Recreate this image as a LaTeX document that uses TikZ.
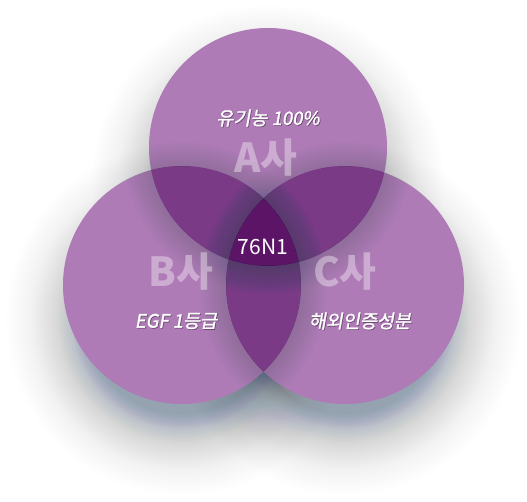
\documentclass[tikz,border=0pt]{standalone}
\usepackage{fontspec}
\usetikzlibrary{calc}
\newfontfamily\kr{Noto Sans CJK KR}
\newfontfamily\krsl[FakeSlant=0.18,FakeBold=1.6]{Noto Sans CJK KR}
\definecolor{vsingle}{HTML}{AE7BB6}
\definecolor{vdouble}{HTML}{7A3A86}
\definecolor{vtriple}{HTML}{5C1466}
\definecolor{shadowc}{HTML}{2A4060}
\tikzset{
  x=1pt, y=-1pt,
  caption/.style={text=white, font=\krsl\fontsize{18.5}{22}\selectfont, inner sep=0pt},
  capshadow/.style={text=black, opacity=0.3, font=\krsl\fontsize{18.5}{22}\selectfont, inner sep=0pt},
  company/.style={text=white, text opacity=0.38, font=\kr\bfseries\fontsize{40}{44}\selectfont, inner sep=0pt},
  center label/.style={text=white, font=\kr\fontsize{21}{24}\selectfont, inner sep=0pt},
}
\newcommand{\rad}{119pt}
\begin{document}
\begin{tikzpicture}
\useasboundingbox (0,0) rectangle (527,502);
\fill[white] (0,0) rectangle (527,502);
\coordinate (A) at (268,147);
\coordinate (B) at (182,285);
\coordinate (C) at (345,285);
% soft drop shadows
\foreach \cc in {A,B,C}{
  \foreach \r in {96,98,...,204}{
    \pgfmathsetmacro{\o}{\r<112 ? 0.03 : (\r<126 ? 0.016 : (\r<152 ? 0.008 : (\r<178 ? 0.0035 : 0.0012)))}
    \fill[shadowc, opacity=\o] ($(\cc)+(0,34)$) circle (\r pt);
  }
}
% circles
\fill[vsingle] (A) circle (\rad);
\fill[vsingle] (B) circle (\rad);
\fill[vsingle] (C) circle (\rad);
% pairwise overlaps
\begin{scope}\clip (A) circle (\rad); \fill[vdouble] (B) circle (\rad); \fill[vdouble] (C) circle (\rad);\end{scope}
\begin{scope}\clip (B) circle (\rad); \fill[vdouble] (C) circle (\rad);\end{scope}
% triple overlap
\begin{scope}\clip (A) circle (\rad); \clip (B) circle (\rad); \fill[vtriple] (C) circle (\rad);\end{scope}
% cast shadows of each circle onto the others
\foreach \src/\dsta/\dstb in {A/B/C, B/A/C, C/A/B}{
  \foreach \dst in {\dsta,\dstb}{
    \begin{scope}
      \clip (\dst) circle (\rad);
      \foreach \r in {121,123,...,145}{
        \fill[shadowc, opacity=0.014, even odd rule] ($(\src)+(0,2)$) circle (\r pt) (\src) circle (\rad);
      }
    \end{scope}
  }
}
% company labels
\node[company] (la) at (266,158) {A사};
\node[company] (lb) at (181,272) {B사};
\node[company] (lc) at (345,272) {C사};
% captions with shadow
\node[capshadow] at (268.8,118.8) {유기농 100\%};
\node[caption] (ca) at (268,118) {유기농 100\%};
\node[capshadow] at (176.8,321.8) {EGF 1등급};
\node[caption] (cb) at (176,321) {EGF 1등급};
\node[capshadow] at (360.8,321.8) {해외인증성분};
\node[caption] (cc) at (360,321) {해외인증성분};
% center
\node[center label] (mid) at (263,247) {76N1};
\end{tikzpicture}
\end{document}
